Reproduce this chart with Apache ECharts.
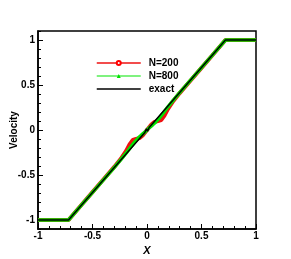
<!DOCTYPE html>
<html><head><meta charset="utf-8">
<script src="https://cdn.jsdelivr.net/npm/echarts@6/dist/echarts.min.js"></script>
<style>html,body{margin:0;padding:0;background:#fff}#c{width:291px;height:259px}</style>
</head><body><div id="c"></div>
<script>
const xN200 = [-1, -0.72, -0.6, -0.5, -0.4, -0.3, -0.24, -0.19, -0.16, -0.13, -0.1, -0.07, -0.04, -0.02, 0, 0.02, 0.04, 0.07, 0.1, 0.13, 0.16, 0.19, 0.24, 0.3, 0.4, 0.5, 0.6, 0.72, 1];
const vN200 = [-1, -1, -0.83, -0.69, -0.55, -0.41, -0.32, -0.23, -0.16, -0.11, -0.1, -0.09, -0.06, -0.03, 0, 0.03, 0.06, 0.09, 0.1, 0.11, 0.16, 0.23, 0.32, 0.41, 0.55, 0.69, 0.83, 1, 1];
const xN800 = [-1, -0.72, -0.6, -0.5, -0.4, -0.3, -0.24, -0.19, -0.15, -0.11, -0.08, -0.05, -0.025, 0, 0.025, 0.05, 0.08, 0.11, 0.15, 0.19, 0.24, 0.3, 0.4, 0.5, 0.6, 0.72, 1];
const vN800 = [-1, -1, -0.833, -0.694, -0.555, -0.415, -0.33, -0.255, -0.19, -0.13, -0.09, -0.055, -0.03, 0, 0.03, 0.055, 0.09, 0.13, 0.19, 0.255, 0.33, 0.415, 0.555, 0.694, 0.833, 1, 1];
const xExact = [-1, -0.72, -0.02, -0.005, 0.005, 0.02, 0.72, 1];
const vExact = [-1, -1, -0.028, 0.012, -0.012, 0.028, 1, 1];
const xTicks = [-1, -0.5, 0, 0.5, 1];
const yTicks = [-1, -0.5, 0, 0.5, 1];
const names = ['N=200', 'N=800', 'exact'];

const pair = (xs, vs) => xs.map((x, i) => [x, vs[i]]);
const font = '"Liberation Sans", Arial, sans-serif';
const chart = echarts.init(document.getElementById('c'), null, {renderer: 'canvas'});
chart.setOption({
  animation: false,
  backgroundColor: '#fff',
  grid: {left: 38, right: 35, top: 31, bottom: 30, containLabel: false, outerBoundsMode: 'none',
    show: true, borderColor: '#000', borderWidth: 1.5, backgroundColor: 'transparent'},
  legend: {
    orient: 'vertical', left: 96, top: 58, padding: 0, itemWidth: 44, itemHeight: 5, itemGap: 3,
    textStyle: {fontFamily: font, fontWeight: 'bold', fontSize: 10, color: '#000', padding: [0, 0, 0, 3]},
    data: [
      {name: names[0], lineStyle: {width: 1.5}, itemStyle: {borderWidth: 1}},
      {name: names[1], lineStyle: {width: 1.2}},
      {name: names[2], lineStyle: {width: 1.5}, itemStyle: {color: 'transparent', opacity: 0}}
    ]
  },
  xAxis: {
    type: 'value', min: xTicks[0], max: xTicks[xTicks.length - 1], interval: 0.5,
    name: 'X', nameLocation: 'middle', nameGap: 16, nameMoveOverlap: false,
    nameTextStyle: {fontFamily: font, fontWeight: 'bold', fontStyle: 'italic', fontSize: 11, color: '#000'},
    axisLine: {show: true, onZero: false, lineStyle: {color: '#000', width: 1.5}},
    axisTick: {show: true, inside: true, length: 5, lineStyle: {color: '#000', width: 1}},
    minorTick: {show: true, splitNumber: 5, length: 3, lineStyle: {color: '#000', width: 1}},
    splitLine: {show: false},
    axisLabel: {fontFamily: font, fontWeight: 'bold', fontSize: 10, color: '#000', margin: 2,
      formatter: v => String(v)}
  },
  yAxis: [{
    type: 'value', min: -1.1, max: 1.1, splitNumber: 4,
    name: 'Velocity', nameLocation: 'middle', nameGap: 19, nameRotate: 90, nameMoveOverlap: false,
    nameTextStyle: {fontFamily: font, fontWeight: 'bold', fontSize: 10, color: '#000'},
    axisLine: {show: true, onZero: false, lineStyle: {color: '#000', width: 1.5}},
    axisTick: {show: true, inside: true, length: 5, lineStyle: {color: '#000', width: 1}},
    splitLine: {show: false},
    axisLabel: {fontFamily: font, fontWeight: 'bold', fontSize: 10, color: '#000', margin: 3,
      showMinLabel: false, showMaxLabel: false,
      formatter: v => (yTicks.some(t => Math.abs(t - v) < 1e-9) ? String(v) : '')}
  }, {
    type: 'value', min: -1.1, max: 1.1, interval: 0.1, position: 'left', offset: 0,
    axisLine: {show: false, onZero: false},
    axisTick: {show: true, inside: true, length: 3, lineStyle: {color: '#000', width: 1}},
    axisLabel: {show: false},
    splitLine: {show: false}
  }],
  series: [
    {name: names[0], type: 'line', data: pair(xN200, vN200), symbol: 'emptyCircle', symbolSize: 4, showSymbol: false,
      color: '#ff0000', lineStyle: {color: '#ee1111', width: 4}, z: 2},
    {name: names[1], type: 'line', data: pair(xN800, vN800), symbol: 'triangle', symbolSize: 4, showSymbol: false,
      color: '#00e000', lineStyle: {color: '#00e600', width: 3.5}, z: 3},
    {name: names[2], type: 'line', data: pair(xExact, vExact), symbol: 'none',
      color: '#000', lineStyle: {color: '#000', width: 1.5}, z: 4}
  ]
});
</script></body></html>
